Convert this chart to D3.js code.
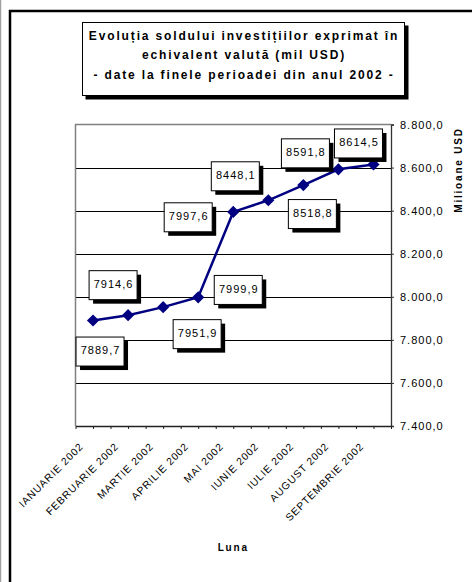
<!DOCTYPE html>
<html>
<head>
<meta charset="utf-8">
<script src="https://cdn.jsdelivr.net/npm/d3@7"></script>
<style>
  body { margin: 0; background: #fff; }
  svg { display: block; font-family: "Liberation Sans", Arial, sans-serif; }
</style>
</head>
<body>
<svg id="chart"></svg>
<script>
const months = [
  "IANUARIE 2002", "FEBRUARIE 2002", "MARTIE 2002", "APRILIE 2002", "MAI 2002",
  "IUNIE 2002", "IULIE 2002", "AUGUST 2002", "SEPTEMBRIE 2002",
];
const values = [7889.7, 7914.6, 7951.9, 7997.6, 8394.0, 8448.1, 8518.8, 8591.8, 8614.5];
const pointLabels = ["7889,7", "7914,6", "7951,9", "7997,6", "7999,9", "8448,1", "8518,8", "8591,8", "8614,5"];
const yTicks = [7400, 7600, 7800, 8000, 8200, 8400, 8600, 8800];
const titleLines = [
  "Evoluția soldului investițiilor exprimat în",
  "echivalent valută (mil USD)",
  "- date la finele perioadei din anul 2002 -",
];
const xTitle = "Luna";
const yTitle = "Milioane USD";

// where each label box sits, relative to its point (px)
const labelOffsets = [[7, 31], [-15, -30], [34, 27], [-10, -80], [5, 78], [-33, -24], [9, 29], [-33, -16], [-15, -21]];

const W = 472, H = 582;
const plot = { left: 75.5, right: 391, top: 124.5, bottom: 426 };

const svg = d3.select("#chart").attr("width", W).attr("height", H);
svg.append("rect").attr("width", W).attr("height", H).attr("fill", "#fff");

// page frame
svg.append("line").attr("x1", 0.5).attr("x2", 0.5).attr("y1", 0).attr("y2", H)
  .attr("stroke", "#a0a0a0").attr("stroke-width", 1.5);
svg.append("rect").attr("x", 10).attr("y", 11).attr("width", 480).attr("height", 600)
  .attr("fill", "none").attr("stroke", "#000").attr("stroke-width", 2.5);

// title box
const tb = svg.append("g");
tb.append("rect").attr("x", 85.5).attr("y", 25.5).attr("width", 323).attr("height", 74).attr("fill", "#000");
tb.append("rect").attr("x", 82.5).attr("y", 22.5).attr("width", 322).attr("height", 73)
  .attr("fill", "#fff").attr("stroke", "#000").attr("stroke-width", 1);
tb.selectAll("text").data(titleLines).join("text")
  .attr("x", 244).attr("y", (d, i) => 39.5 + i * 19.6)
  .attr("text-anchor", "middle").attr("font-size", 12).attr("font-weight", "bold")
  .attr("letter-spacing", 1.85).text((d) => d);

const x = d3.scaleBand().domain(months).range([plot.left, plot.right]).padding(0);
const cx = (m) => x(m) + x.bandwidth() / 2;
const y = d3.scaleLinear().domain([7400, 8800]).range([plot.bottom, plot.top]);
const half = d3.scaleLinear().domain([0, months.length * 2]).range([plot.left, plot.right]);

// gridlines
svg.append("g").selectAll("line").data(yTicks.filter((t) => t > 7400 && t < 8800)).join("line")
  .attr("x1", plot.left).attr("x2", plot.right)
  .attr("y1", (d) => Math.round(y(d)) + 0.5).attr("y2", (d) => Math.round(y(d)) + 0.5)
  .attr("stroke", "#000").attr("stroke-width", 1);

// plot border (top/left)
svg.append("path")
  .attr("d", `M${plot.left},${plot.bottom}V${plot.top}H${plot.right}`)
  .attr("fill", "none").attr("stroke", "#808080").attr("stroke-width", 1.5);

// y axis on the right
const fmt = d3.formatLocale({ decimal: ",", thousands: ".", grouping: [3], currency: ["", ""] }).format(",.1f");
const yAxis = svg.append("g").attr("transform", `translate(${plot.right},0)`)
  .call(d3.axisRight(y).tickValues(yTicks).tickSize(3).tickPadding(6).tickFormat(fmt));
yAxis.select(".domain").attr("stroke", "#333").attr("stroke-width", 1.3);
yAxis.selectAll(".tick line").attr("stroke", "#333");
yAxis.selectAll("text").attr("font-size", 11).attr("letter-spacing", 1)
  .attr("font-family", "Liberation Sans, Arial, sans-serif").attr("fill", "#000");

// x axis with ticks at each half category
const xAxis = svg.append("g").attr("transform", `translate(0,${plot.bottom})`)
  .call(d3.axisBottom(half).ticks(months.length * 2).tickSize(3).tickSizeOuter(0).tickFormat(""));
xAxis.select(".domain").attr("stroke", "#222").attr("stroke-width", 1.5);
xAxis.selectAll(".tick line").attr("stroke", "#222");

svg.append("g").selectAll("text").data(months).join("text")
  .attr("transform", (d) => `translate(${cx(d) - 9},447) rotate(-45)`)
  .attr("text-anchor", "end").attr("font-size", 10.3).attr("letter-spacing", 0.9)
  .text((d) => d);

svg.append("text").attr("x", (plot.left + plot.right) / 2).attr("y", 551)
  .attr("text-anchor", "middle").attr("font-size", 10).attr("font-weight", "bold")
  .attr("letter-spacing", 1.8).text(xTitle);

svg.append("text").attr("transform", "translate(462,170) rotate(-90)")
  .attr("text-anchor", "middle").attr("font-size", 10).attr("font-weight", "bold")
  .attr("letter-spacing", 1.8).text(yTitle);

// series
const line = d3.line().x((d, i) => cx(months[i])).y((d) => y(d));
svg.append("path").datum(values).attr("d", line)
  .attr("fill", "none").attr("stroke", "#000080").attr("stroke-width", 2.5);

const diamond = d3.symbol(d3.symbolSquare, 74);
svg.append("g").selectAll("path").data(values).join("path")
  .attr("transform", (d, i) => `translate(${cx(months[i])},${y(d)}) rotate(45)`)
  .attr("d", diamond).attr("fill", "#000080");

// data labels
const bw = 48, bh = 29;
const lab = svg.append("g").selectAll("g").data(values).join("g")
  .attr("transform", (d, i) =>
    `translate(${cx(months[i]) + labelOffsets[i][0]},${y(d) + labelOffsets[i][1]})`);
lab.append("rect").attr("x", -bw / 2 + 4).attr("y", -bh / 2 + 4).attr("width", bw).attr("height", bh).attr("fill", "#000");
lab.append("rect").attr("x", -bw / 2).attr("y", -bh / 2).attr("width", bw).attr("height", bh)
  .attr("fill", "#fff").attr("stroke", "#000").attr("stroke-width", 1);
lab.append("text").attr("x", 0.5).attr("y", -1).attr("dy", "0.35em")
  .attr("text-anchor", "middle").attr("font-size", 11).attr("letter-spacing", 1)
  .text((d, i) => pointLabels[i]);
</script>
</body>
</html>
